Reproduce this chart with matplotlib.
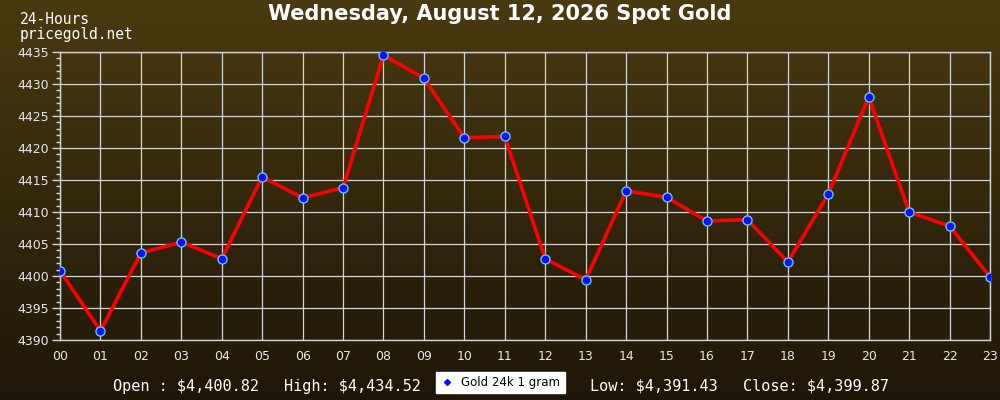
import numpy as np
import matplotlib.pyplot as plt
from matplotlib.lines import Line2D
from matplotlib.ticker import MultipleLocator

# hourly spot gold prices
hours = ['00', '01', '02', '03', '04', '05', '06', '07', '08', '09', '10', '11',
         '12', '13', '14', '15', '16', '17', '18', '19', '20', '21', '22', '23']
prices = [4400.82, 4391.43, 4403.6, 4405.3, 4402.7, 4415.5, 4412.2, 4413.8,
          4434.52, 4430.9, 4421.6, 4421.8, 4402.7, 4399.4, 4413.3, 4412.3,
          4408.6, 4408.8, 4402.2, 4412.8, 4428.0, 4410.0, 4407.8, 4399.87]

title = 'Wednesday, August 12, 2026 Spot Gold'
stats = ['Open : $4,400.82', 'High: $4,434.52', 'Low: $4,391.43', 'Close: $4,399.87']
series_name = 'Gold 24k 1 gram'

fig = plt.figure(figsize=(10, 4), dpi=100)

# gradient background
bg = fig.add_axes([0, 0, 1, 1], zorder=-1)
top = np.array([74, 58, 15]) / 255
bottom = np.array([30, 22, 8]) / 255
t = np.linspace(0, 1, 256)[:, None]
grad = top * (1 - t) + bottom * t
bg.imshow(grad[:, None, :], aspect='auto', extent=[0, 1, 0, 1])
bg.axis('off')

ax = fig.add_axes([0.06, 0.15, 0.93, 0.72])
ax.patch.set_alpha(0)
x = np.arange(len(hours))
ax.plot(x, prices, color='red', lw=2.6, zorder=3)
ax.plot(x, prices, ls='none', marker='o', ms=6.5, mfc='#0010ff', mec='#5fc8f0',
        mew=1, zorder=4)

ax.set_xlim(0, 23)
ax.set_ylim(4390, 4435)
ax.set_xticks(x)
ax.set_xticklabels(hours)
ax.yaxis.set_major_locator(MultipleLocator(5))
ax.yaxis.set_minor_locator(MultipleLocator(1))
ax.grid(True, color='#d4d4d4', lw=0.9)
for s in ax.spines.values():
    s.set_color('#d4d4d4')
    s.set_linewidth(1)
ax.tick_params(axis='x', length=0, pad=7, colors='#e8e8e8', labelsize=9)
ax.tick_params(axis='y', which='major', length=6, width=1, color='#d4d4d4',
               labelcolor='#e8e8e8', labelsize=9, pad=2)
ax.tick_params(axis='y', which='minor', length=3, width=1, color='#d4d4d4')

fig.text(0.5, 0.965, title, ha='center', va='center', color='white',
         fontsize=15, fontweight='bold')
fig.text(0.02, 0.952, '24-Hours', ha='left', va='center', color='white',
         family='DejaVu Sans Mono', fontsize=10.5)
fig.text(0.02, 0.915, 'pricegold.net', ha='left', va='center', color='white',
         family='DejaVu Sans Mono', fontsize=10.5)

for xs, s in zip([0.113, 0.284, 0.590, 0.743], stats):
    fig.text(xs, 0.035, s, ha='left', va='center', color='white',
             family='DejaVu Sans Mono', fontsize=11)

handle = Line2D([], [], ls='none', marker='D', ms=3, mfc='#0010ff', mec='#0010ff')
leg = fig.legend([handle], [series_name], loc='lower left',
                 bbox_to_anchor=(0.436, 0.0175), fontsize=8.5, frameon=True,
                 fancybox=False, framealpha=1, facecolor='white', edgecolor='white',
                 borderpad=0.35, handlelength=1.2, handletextpad=0.6,
                 borderaxespad=0)

fig.savefig('out.png', dpi=100)
